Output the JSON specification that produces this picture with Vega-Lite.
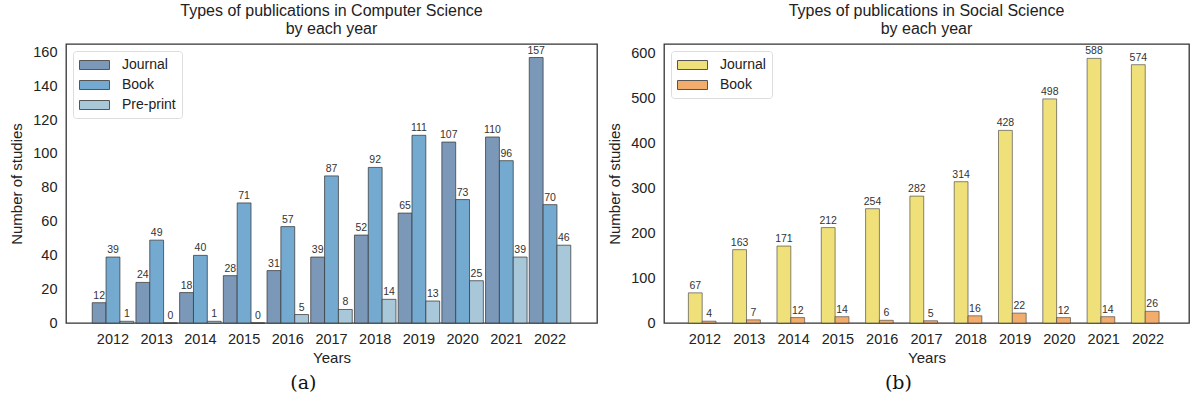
{
  "$schema": "https://vega.github.io/schema/vega-lite/v6.json",
  "padding": {"left": 9, "top": 2, "right": 1, "bottom": 0},
  "background": "white",
  "spacing": 9,
  "datasets": {
    "cs": [
      {"year": "2012", "type": "Journal", "n": 12}, {"year": "2012", "type": "Book", "n": 39}, {"year": "2012", "type": "Pre-print", "n": 1},
      {"year": "2013", "type": "Journal", "n": 24}, {"year": "2013", "type": "Book", "n": 49}, {"year": "2013", "type": "Pre-print", "n": 0},
      {"year": "2014", "type": "Journal", "n": 18}, {"year": "2014", "type": "Book", "n": 40}, {"year": "2014", "type": "Pre-print", "n": 1},
      {"year": "2015", "type": "Journal", "n": 28}, {"year": "2015", "type": "Book", "n": 71}, {"year": "2015", "type": "Pre-print", "n": 0},
      {"year": "2016", "type": "Journal", "n": 31}, {"year": "2016", "type": "Book", "n": 57}, {"year": "2016", "type": "Pre-print", "n": 5},
      {"year": "2017", "type": "Journal", "n": 39}, {"year": "2017", "type": "Book", "n": 87}, {"year": "2017", "type": "Pre-print", "n": 8},
      {"year": "2018", "type": "Journal", "n": 52}, {"year": "2018", "type": "Book", "n": 92}, {"year": "2018", "type": "Pre-print", "n": 14},
      {"year": "2019", "type": "Journal", "n": 65}, {"year": "2019", "type": "Book", "n": 111}, {"year": "2019", "type": "Pre-print", "n": 13},
      {"year": "2020", "type": "Journal", "n": 107}, {"year": "2020", "type": "Book", "n": 73}, {"year": "2020", "type": "Pre-print", "n": 25},
      {"year": "2021", "type": "Journal", "n": 110}, {"year": "2021", "type": "Book", "n": 96}, {"year": "2021", "type": "Pre-print", "n": 39},
      {"year": "2022", "type": "Journal", "n": 157}, {"year": "2022", "type": "Book", "n": 70}, {"year": "2022", "type": "Pre-print", "n": 46}
    ],
    "ss": [
      {"year": "2012", "type": "Journal", "n": 67}, {"year": "2012", "type": "Book", "n": 4},
      {"year": "2013", "type": "Journal", "n": 163}, {"year": "2013", "type": "Book", "n": 7},
      {"year": "2014", "type": "Journal", "n": 171}, {"year": "2014", "type": "Book", "n": 12},
      {"year": "2015", "type": "Journal", "n": 212}, {"year": "2015", "type": "Book", "n": 14},
      {"year": "2016", "type": "Journal", "n": 254}, {"year": "2016", "type": "Book", "n": 6},
      {"year": "2017", "type": "Journal", "n": 282}, {"year": "2017", "type": "Book", "n": 5},
      {"year": "2018", "type": "Journal", "n": 314}, {"year": "2018", "type": "Book", "n": 16},
      {"year": "2019", "type": "Journal", "n": 428}, {"year": "2019", "type": "Book", "n": 22},
      {"year": "2020", "type": "Journal", "n": 498}, {"year": "2020", "type": "Book", "n": 12},
      {"year": "2021", "type": "Journal", "n": 588}, {"year": "2021", "type": "Book", "n": 14},
      {"year": "2022", "type": "Journal", "n": 574}, {"year": "2022", "type": "Book", "n": 26}
    ]
  },
  "hconcat": [
    {
      "title": {"text": "(a)", "orient": "bottom", "anchor": "middle", "font": "DejaVu Serif", "fontSize": 19, "fontWeight": "normal", "color": "#111", "offset": 8},
      "vconcat": [
        {
          "width": 531,
          "height": 279,
          "data": {"name": "cs"},
          "title": {"text": "Types of publications in Computer Science", "subtitle": "by each year", "anchor": "middle", "fontSize": 16, "subtitleFontSize": 16, "fontWeight": "normal", "font": "Liberation Sans", "subtitleFont": "Liberation Sans", "color": "#222", "subtitleColor": "#222", "offset": 7, "subtitlePadding": 2},
          "encoding": {
            "x": {"field": "year", "type": "nominal", "title": "Years", "scale": {"paddingInner": 0.05, "paddingOuter": 0.6}, "axis": {"labelAngle": 0}},
            "xOffset": {"field": "type", "type": "nominal", "scale": {"domain": ["Journal", "Book", "Pre-print"]}},
            "y": {"field": "n", "type": "quantitative", "title": "Number of studies", "scale": {"domain": [0, 165], "nice": false}, "axis": {"values": [0, 20, 40, 60, 80, 100, 120, 140, 160]}}
          },
          "layer": [
            {
              "mark": {"type": "bar", "stroke": "#3a3a3a", "strokeWidth": 1, "strokeOpacity": 0.75},
              "encoding": {
                "color": {"field": "type", "type": "nominal", "title": null, "scale": {"domain": ["Journal", "Book", "Pre-print"], "range": ["#7b98b8", "#74a9d0", "#a8c7d8"]}}
              }
            },
            {
              "mark": {"type": "text", "dy": -7, "fontSize": 10.5, "color": "#333", "font": "Liberation Sans"},
              "encoding": {"text": {"field": "n", "type": "quantitative"}}
            }
          ]
        }
      ]
    },
    {
      "title": {"text": "(b)", "orient": "bottom", "anchor": "middle", "font": "DejaVu Serif", "fontSize": 19, "fontWeight": "normal", "color": "#111", "offset": 8},
      "vconcat": [
        {
          "width": 525,
          "height": 279,
          "data": {"name": "ss"},
          "title": {"text": "Types of publications in Social Science", "subtitle": "by each year", "anchor": "middle", "fontSize": 16, "subtitleFontSize": 16, "fontWeight": "normal", "font": "Liberation Sans", "subtitleFont": "Liberation Sans", "color": "#222", "subtitleColor": "#222", "offset": 7, "subtitlePadding": 2},
          "encoding": {
            "x": {"field": "year", "type": "nominal", "title": "Years", "scale": {"paddingInner": 0.25, "paddingOuter": 0.55}, "axis": {"labelAngle": 0}},
            "xOffset": {"field": "type", "type": "nominal", "scale": {"domain": ["Journal", "Book"]}},
            "y": {"field": "n", "type": "quantitative", "title": "Number of studies", "scale": {"domain": [0, 620], "nice": false}, "axis": {"values": [0, 100, 200, 300, 400, 500, 600]}}
          },
          "layer": [
            {
              "mark": {"type": "bar", "stroke": "#3a3a3a", "strokeWidth": 1, "strokeOpacity": 0.6},
              "encoding": {
                "color": {"field": "type", "type": "nominal", "title": null, "scale": {"domain": ["Journal", "Book"], "range": ["#f0e07a", "#f2ac6c"]}}
              }
            },
            {
              "mark": {"type": "text", "dy": -7, "fontSize": 10.5, "color": "#333", "font": "Liberation Sans"},
              "encoding": {"text": {"field": "n", "type": "quantitative"}}
            }
          ]
        }
      ]
    }
  ],
  "resolve": {"scale": {"color": "independent"}, "legend": {"color": "independent"}},
  "config": {
    "view": {"stroke": "#333", "strokeWidth": 1.3},
    "font": "Liberation Sans",
    "axis": {"domain": false, "ticks": false, "grid": false, "labelFont": "Liberation Sans", "titleFont": "Liberation Sans", "labelFontSize": 14.5, "titleFontSize": 15, "titleFontWeight": "normal", "labelColor": "#222", "titleColor": "#222", "labelPadding": 9},
    "axisX": {"titlePadding": 5},
    "axisY": {"titlePadding": 8},
    "legend": {"orient": "top-left", "offset": 7, "fillColor": "white", "strokeColor": "#ddd", "cornerRadius": 3, "padding": 6, "symbolType": "M-1,-0.6H3V0.6H-1Z", "symbolSize": 225, "symbolStrokeColor": "#555", "symbolStrokeWidth": 1, "symbolOpacity": 1, "labelFont": "Liberation Sans", "labelFontSize": 14, "labelColor": "#222", "rowPadding": 5, "labelOffset": 27}
  }
}
